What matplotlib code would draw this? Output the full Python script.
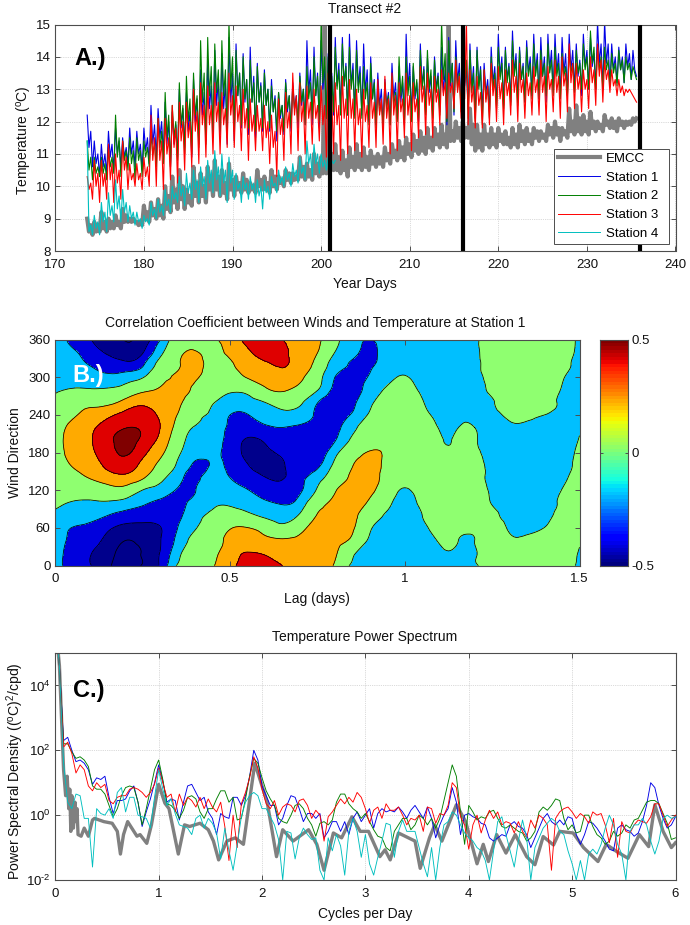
import numpy as np
import matplotlib
matplotlib.use('Agg')
import matplotlib.pyplot as plt
import matplotlib.tri as mtri

plt.rcParams['font.family'] = ['Liberation Sans', 'DejaVu Sans']
plt.rcParams['mathtext.fontset'] = 'custom'
plt.rcParams['mathtext.rm'] = 'Liberation Sans'
plt.rcParams['mathtext.default'] = 'regular'
plt.rcParams['font.size'] = 9.5

W, H = 690.0, 925.0

# panel A, temperature read every 0.2 day from day 173.6
emcc_t = [9.0,8.6,8.8,8.5,8.9,8.6,8.8,8.6,9.2,8.7,8.9,8.6,9.0,8.7,8.9,8.7,9.1,8.8,8.9,8.7,
    9.3,8.9,9.1,8.9,9.0,8.9,9.0,8.9,8.9,8.8,8.9,8.8,9.4,9.0,9.2,8.9,9.5,9.1,9.3,9.0,
    9.6,9.1,9.4,9.0,10.0,9.3,9.7,9.2,10.3,9.5,9.9,9.3,10.5,9.6,10.0,9.3,9.9,9.5,9.7,9.4,
    10.6,9.7,10.1,9.5,10.4,9.7,10.0,9.5,10.6,9.9,10.3,9.7,10.8,9.9,10.3,9.7,10.5,9.8,10.1,9.6,
    10.7,9.9,10.2,9.7,10.3,9.9,10.1,9.8,10.4,9.9,10.2,9.8,10.1,9.9,10.0,9.8,10.5,10.0,10.2,9.9,
    10.3,9.9,10.1,9.8,10.5,10.0,10.3,9.9,10.3,10.1,10.2,10.0,10.5,10.2,10.4,10.1,10.4,10.2,10.3,10.2,
    10.9,10.3,10.6,10.2,10.7,10.3,10.5,10.2,11.0,10.4,10.7,10.3,10.9,10.4,15.1,10.4,11.5,10.6,11.0,10.5,
    11.3,10.5,10.9,10.4,11.1,10.5,10.8,10.3,11.2,10.6,10.9,10.5,11.3,10.6,11.0,10.5,11.2,10.6,10.9,10.5,
    11.1,10.7,10.9,10.6,11.0,10.7,10.9,10.6,11.2,10.8,11.0,10.7,11.3,10.9,11.1,10.8,11.4,10.9,11.2,10.8,
    11.5,11.0,11.3,10.9,11.6,11.1,11.4,11.0,11.7,11.1,11.5,11.0,11.8,11.2,11.5,11.1,11.8,11.3,11.6,11.2,
    11.9,11.3,11.6,11.2,15.1,11.4,11.7,11.4,12.0,11.5,11.8,11.4,12.0,11.5,11.8,11.5,12.4,11.3,11.9,11.1,
    11.9,11.2,11.6,11.1,11.9,11.3,11.6,11.2,11.8,11.3,11.6,11.2,11.8,11.4,11.6,11.3,11.7,11.3,11.5,11.2,
    11.8,11.3,11.6,11.2,11.9,11.4,11.7,11.3,11.8,11.4,11.6,11.3,11.8,11.5,11.7,11.4,11.7,11.5,11.6,11.4,
    11.9,11.6,11.8,11.5,12.0,11.6,11.8,11.4,11.8,11.6,11.7,11.5,12.4,11.7,12.0,11.6,12.5,11.7,12.1,11.6,
    12.2,11.7,12.0,11.6,12.3,11.8,12.0,11.7,12.0,11.8,11.9,11.7,12.2,11.9,12.0,11.8,12.1,11.8,12.0,11.7,
    12.1,11.9,12.0,11.8,12.0,11.9,12.0,11.9,12.1,12.0,12.1]
st1_t = [12.2,11.2,11.7,10.6,11.4,10.7,11.0,10.3,11.3,10.6,11.0,10.4,11.7,10.9,11.3,10.5,11.8,11.0,11.4,10.6,
    11.5,10.9,11.2,10.7,11.8,11.0,11.4,10.6,11.7,11.0,11.3,10.5,11.8,11.1,11.5,10.7,12.5,11.3,11.9,10.9,
    12.4,11.5,12.0,11.0,12.6,11.3,12.0,10.6,12.3,11.3,11.9,10.9,13.0,11.8,12.4,11.2,12.9,11.7,12.3,10.9,
    13.3,12.0,12.7,11.3,13.6,12.2,12.9,11.4,13.9,12.4,13.1,11.6,14.2,12.5,13.3,11.6,14.1,12.4,13.2,11.3,
    14.6,12.6,13.5,11.4,14.4,12.8,13.5,11.8,14.1,12.6,13.3,11.6,14.3,12.6,13.4,11.5,13.8,12.6,13.2,11.7,
    13.6,12.5,13.0,11.7,13.3,12.3,12.8,11.4,12.9,12.1,12.5,11.6,13.3,12.3,12.8,11.7,13.2,12.4,12.8,11.8,
    13.5,12.5,13.0,11.9,14.5,12.9,13.6,11.9,14.3,12.8,13.5,11.8,14.5,13.0,13.7,12.1,14.1,13.0,13.5,12.2,
    14.6,13.1,13.8,12.3,14.6,13.1,13.8,12.2,14.7,13.1,13.8,12.2,14.5,13.1,13.7,12.2,14.4,12.9,13.6,12.0,
    14.0,12.7,13.3,11.9,13.5,12.5,13.0,11.8,13.3,12.5,12.9,11.9,13.8,12.7,13.2,12.1,13.7,12.6,13.2,11.9,
    14.7,13.0,13.8,12.2,13.7,12.7,13.2,12.0,14.4,13.1,13.7,12.3,14.0,12.9,13.4,12.2,14.0,13.0,13.5,12.3,
    14.3,12.9,13.6,11.9,14.6,13.1,13.8,12.2,14.5,13.2,13.8,12.4,14.1,13.1,13.6,12.4,14.4,13.0,13.7,12.1,
    14.3,13.1,13.7,12.3,13.8,12.9,13.3,12.3,14.3,13.2,13.7,12.5,14.7,13.4,14.0,12.5,14.3,13.3,13.8,12.6,
    14.8,13.5,14.1,12.6,14.3,13.3,13.8,12.6,14.5,13.5,14.0,12.8,14.7,13.5,14.1,12.7,14.6,13.4,14.0,12.6,
    14.7,13.6,14.2,12.9,14.7,13.5,14.1,12.8,14.6,13.5,14.1,12.8,14.7,13.6,14.2,13.0,14.4,13.4,13.9,12.8,
    14.7,13.7,14.2,13.0,14.6,13.7,14.1,13.0,15.1,13.8,14.4,13.0,15.1,13.8,14.4,13.1,14.4,13.6,14.0,13.2,
    14.3,13.6,14.0,13.2,14.4,13.7,14.1,13.3,14.2,13.6,13.4]
st2_t = [11.4,10.5,10.9,10.2,10.9,10.4,10.6,10.3,10.9,10.4,10.7,10.2,11.2,10.6,10.9,10.4,12.2,10.9,11.5,10.3,
    11.4,10.8,11.1,10.5,11.5,10.7,11.1,10.2,11.5,10.8,11.1,10.3,11.4,10.9,11.2,10.6,11.6,11.0,11.3,10.6,
    12.1,11.2,11.7,10.7,12.9,11.5,12.2,10.6,12.5,11.5,12.0,10.8,13.2,11.9,12.5,11.0,13.4,12.0,12.7,11.0,
    13.5,12.2,12.8,11.2,14.5,12.6,13.5,11.3,14.6,12.8,13.7,11.5,14.4,12.9,13.6,11.7,14.5,12.8,13.6,11.5,
    15.1,13.0,14.0,11.7,14.2,12.8,13.5,11.9,14.0,12.7,13.3,11.8,13.9,12.6,13.2,11.7,13.7,12.6,13.1,11.8,
    13.5,12.5,13.0,11.8,13.1,12.3,12.7,11.7,12.9,12.2,12.5,11.7,13.2,12.4,12.8,11.8,13.1,12.4,12.7,12.0,
    13.4,12.6,13.0,11.9,13.7,12.7,13.2,12.1,14.0,12.8,13.4,12.0,15.1,13.2,14.0,12.1,14.0,12.9,13.4,12.3,
    14.3,13.0,13.6,12.2,14.4,13.1,13.7,12.2,14.3,13.0,13.6,12.1,14.2,12.9,13.5,12.1,13.7,12.7,13.2,11.9,
    13.8,12.7,13.2,11.8,13.0,12.3,12.6,11.9,13.2,12.4,12.8,11.9,13.4,12.5,12.9,12.0,14.0,12.8,13.4,12.0,
    14.0,12.8,13.4,12.0,13.8,12.8,13.3,12.1,14.2,13.0,13.6,12.2,14.2,13.0,13.6,12.1,13.9,12.9,13.4,12.2,
    15.1,13.3,14.1,12.0,14.5,13.2,13.8,12.3,14.0,13.0,13.5,12.3,14.6,13.2,13.9,12.1,14.2,12.9,13.5,12.0,
    14.2,13.0,13.6,11.9,13.6,12.7,13.1,12.1,14.0,13.0,13.5,12.4,14.3,13.3,13.8,12.4,14.2,13.2,13.7,12.5,
    14.5,13.4,13.9,12.5,14.2,13.3,13.7,12.6,14.3,13.4,13.8,12.7,14.4,13.4,13.9,12.7,14.2,13.4,13.8,12.8,
    14.4,13.5,13.9,12.8,14.3,13.4,13.8,12.7,14.1,13.4,13.7,12.8,14.2,13.5,13.8,12.9,14.2,13.5,13.8,13.0,
    14.4,13.6,14.0,13.0,14.8,13.8,14.3,13.0,14.3,13.6,14.0,13.0,14.3,13.6,13.9,13.1,14.1,13.5,13.8,13.1,
    14.2,13.6,13.9,13.2,14.0,13.6,13.8,13.3,13.7,13.5,13.3]
st3_t = [10.3,9.9,10.1,9.6,10.8,10.0,10.4,9.5,10.8,10.0,10.4,9.6,11.3,10.2,10.7,9.5,11.0,10.1,10.5,9.6,
    11.4,10.5,10.9,9.9,10.7,10.2,10.4,10.0,10.7,10.2,10.4,9.9,10.9,10.3,10.6,10.0,12.2,10.8,11.5,10.0,
    12.1,10.8,11.4,9.9,12.1,11.0,11.5,10.2,12.5,11.2,11.8,10.1,12.6,11.4,12.0,10.5,12.6,11.5,12.0,10.6,
    13.0,11.7,12.3,10.7,13.2,11.9,12.5,10.9,13.1,11.9,12.5,11.0,13.2,12.0,12.6,11.0,12.9,11.9,12.4,11.2,
    13.5,12.2,12.8,11.2,13.1,12.0,12.5,11.1,13.0,11.8,12.4,10.8,12.7,11.7,12.2,11.1,12.5,11.7,12.1,11.1,
    12.5,11.5,12.0,10.7,12.2,11.2,11.7,10.3,12.7,11.6,12.1,10.8,12.9,11.8,12.3,11.0,13.5,12.2,12.8,11.1,
    13.2,12.0,12.6,11.0,13.1,12.1,12.6,11.3,13.0,12.1,12.5,11.4,13.1,11.9,12.5,10.9,13.5,12.1,12.8,11.0,
    13.2,11.9,12.5,10.8,13.4,12.1,12.7,11.0,13.3,12.1,12.7,11.1,13.0,11.9,12.4,10.9,13.0,12.0,12.5,11.2,
    13.2,12.1,12.6,11.2,13.3,12.2,12.7,11.3,13.4,12.1,12.7,11.0,13.5,12.2,12.8,11.1,13.2,12.3,12.7,11.5,
    13.5,12.2,12.8,11.1,13.2,12.3,12.7,11.5,13.7,12.6,13.1,11.6,13.5,12.5,13.0,11.5,13.4,12.6,13.0,11.9,
    13.6,12.8,13.2,12.1,13.5,12.9,13.2,12.4,13.9,12.9,13.4,12.1,13.6,12.7,15.1,11.9,13.6,12.6,13.1,11.8,
    13.4,12.5,12.9,11.8,13.6,12.6,13.1,11.9,13.8,12.8,13.3,12.0,13.7,12.7,13.2,11.9,13.6,12.8,13.2,12.2,
    13.9,12.9,13.4,12.0,13.8,12.9,13.3,12.1,13.5,12.8,13.2,12.2,13.7,12.9,13.3,12.2,13.9,12.9,13.4,12.0,
    13.7,13.0,13.3,12.3,13.9,12.9,13.4,12.1,14.0,13.1,13.5,12.3,14.4,13.2,13.8,12.4,13.8,13.0,13.4,12.3,
    13.6,13.0,13.3,12.4,14.0,13.2,13.6,12.5,14.4,13.4,13.9,12.6,13.9,13.3,13.6,12.9,13.6,13.1,13.3,12.8,
    13.3,12.9,13.1,12.8,13.0,12.9,13.0,12.9,12.8,12.7,12.6]
st4_t = [11.4,8.6,8.8,8.5,9.1,8.7,8.9,8.5,9.5,8.9,9.2,8.6,9.8,9.1,9.4,8.9,10.2,9.3,9.7,8.9,
    9.9,9.2,9.5,8.9,9.4,9.0,9.2,8.8,9.2,8.9,9.0,8.7,9.1,8.9,9.0,8.8,9.5,9.1,9.3,9.0,
    9.6,9.2,9.4,9.1,9.9,9.4,9.6,9.2,10.0,9.6,9.8,9.5,10.3,9.7,10.0,9.4,10.4,9.8,10.1,9.6,
    10.5,9.9,10.2,9.5,10.6,10.0,10.3,9.6,10.8,10.1,10.5,9.8,11.1,10.2,10.6,9.7,11.0,10.1,10.5,9.5,
    10.9,10.1,10.5,9.6,10.4,9.9,10.1,9.5,10.3,9.9,10.1,9.6,10.3,9.9,10.1,9.5,10.2,9.7,10.0,9.3,
    10.2,9.8,10.0,9.6,10.3,10.0,10.1,9.8,10.5,10.1,10.3,10.0,10.6,10.2,10.4,10.0,10.7,10.3,10.5,10.1,
    10.9,10.4,10.6,10.2,11.4,10.7,11.0,10.3,11.3,10.7,11.0,10.4,11.0,10.6,10.8,10.5,10.9,10.7,10.8,10.7,
    10.8]
transect_days = [201, 216, 236]

# panel B, correlation x100, one row per lag (0, 0.05 .. 1.5), columns are direction 0, 20 .. 360
lags = np.arange(31) * 0.05
dirs = np.arange(19) * 20
corr = np.array([
    [-20,-20,-19,-17,-13,-7,-3,0,3,4,4,3,0,-6,-11.5,-15,-18,-20,-20],
    [-31,-30,-28,-25.5,-18,-11,-3,4,11,15,16,14,8,2,-9,-14,-18,-23,-28],
    [-37,-37,-33,-28,-21,-12,-2,11,19,23,24,22,15,5,-9,-17,-26,-32,-37],
    [-46,-44,-41,-35,-25,-12,3,18,28,32,34,31,22,6,-8,-22,-31,-39,-44],
    [-50,-50,-47.5,-41,-30,-16,3,21,32,39,41,37,29,15,-3,-18,-34,-44,-48],
    [-47,-47,-45,-41,-32,-23,-10.5,12,21,29,35,36,31,22,6,-11,-27,-38.5,-44],
    [-36,-37,-38,-38,-34,-28,-17,-5,6,14,21,25,23,18,12,5,-4,-15,-26],
    [-8,-15,-21,-25,-29,-29,-26.5,-20,-12.5,-6,-1,4,9.5,13,15,12,8,5,2],
    [4,0,-5,-11,-15,-20,-25.5,-28,-26.5,-21,-17,-11,-6,-1,7,13,15,11,8],
    [9,6,2,-2,-7,-12,-15,-19,-24,-23,-20,-16,-13,-9,-4,-1,3,6,8],
    [21,19,15,9,-2,-12,-18,-25,-28,-30,-30,-28,-25,-17,-8,0,7,14,19],
    [30,25.5,19,10.5,-6,-18,-24.5,-32,-37,-40,-38.5,-32,-25.5,-16,-5,11,17,23,28],
    [29,24,14,3,-13,-23,-30,-37,-42,-40,-36,-27,-19,-10,7,16,23,30,33],
    [25,20,12,-5,-17,-26.5,-33,-38.5,-39,-35,-30,-25,-15,-2,12,21,26,27,25],
    [19,18,14,5,-8,-19,-27,-29,-31,-32,-30,-27,-17,-7,5,13,19,22,20],
    [18,17,17,15,11,3,-8,-17,-28,-32,-33,-31,-28,-24.5,-9,-3,4,10.5,14],
    [8,12,15,17,16,13,9,1,-6,-15,-26,-30,-33,-32,-29,-25,-18,-10,-5],
    [-13,-7,6,12,15,17,15,12.5,9.5,3,-7,-14,-23,-28,-31,-29,-26,-22,-20],
    [-18,-16,-12.5,-8,-2,7,13,16,14,11,3,-2,-8,-13,-19,-24,-27,-27,-25],
    [-21,-21,-19,-16,-11.5,-7,-1,3,6,7,6,5,2,-3,-8,-14,-18,-20,-20],
    [-21,-21,-20,-19,-17,-14,-11,-6,-3,-1,1,2,2,-1,-6,-9.5,-13,-16,-17],
    [-19,-18,-16,-13,-10,-7,-5,-3,-1,0,1,-1,-5,-9,-12,-14,-16,-17,-18],
    [-14,-12,-9,-6,-4,-2,0,0,-3,-6,-9,-11,-14,-16,-17,-18,-18,-18,-18],
    [-13,-12,-9.5,-6,-3,-1,0,-1,-5,-7,-9,-10.5,-13,-15,-17,-17,-17,-17,-17],
    [-13,-12,-10,-6,-3,-2,-2,-3,-5,-7,-9,-10,-13,-14,-15,-15,-15,-14,-14],
    [4,3,2,0,-5,-11,-13,-15,-15,-16,-16,-15,-14,-11.5,-6,-3,1,3,4],
    [8,3,-5,-12,-17,-19,-20,-20,-20,-19,-15,-12,-7,-1,3,5,6,7,7],
    [8,4,-5,-14,-19,-22,-23,-23,-22,-20,-16,-12,-7,-1,3,5,6,7,7],
    [8,6,1,-9.5,-16,-20,-22,-23,-23,-21,-18,-14,-10,-3,1,5,6,7,7],
    [3,3,2,1,-2,-6,-9.5,-14,-17,-18,-18,-17,-15,-13,-11,-8,-4,-1,1],
    [-15,-12,-8,-5,-3,-2,-2,-3,-4,-6,-9,-11,-13,-14,-15,-15,-15,-14,-14],
]) / 100.0
corr_levels = [-0.9, -0.475, -0.375, -0.25, -0.1, 0.1, 0.25, 0.375, 0.9]
corr_colors = ['#00008c', '#00008c', '#0000dd', '#00bfff', '#8fff70', '#ffaa00', '#df0000', '#800000']

# panel C, log10 of the spectrum, thin lines read every 0.04 cpd
freq = np.arange(151) * 0.04
st1_p = [6.0,4.6,2.3,2.4,2.0,1.65,1.7,1.6,1.4,.95,1.15,1.1,1.2,.55,.05,.45,.45,.5,.75,.9,.4,-.35,.1,.5,1.0,
    1.55,1.05,.4,.5,.45,-.15,.4,.9,.95,.7,.45,.55,.1,-.1,-.6,.05,-.05,-.1,.55,.55,.3,.6,1.2,2.0,1.7,
    .9,.6,.3,.3,-.3,-.1,.3,.6,.55,.2,-.2,.05,.05,-.1,.05,-.7,-.5,-.2,-.2,-.5,-.2,-.6,-.1,.1,-.2,
    0,.2,-.4,.05,.2,.1,.15,.1,.25,.1,-.1,.15,.3,.1,-.1,.25,-.1,-.7,-.3,0,.2,.85,.4,-.6,.0,
    .05,-.05,-.1,-.25,-.3,-.7,-.8,-.7,-.6,-.65,-.3,-.2,-.35,-.4,-.6,-1,-.7,-.4,-.1,.05,-.2,-.3,-.15,-.3,-.05,
    -.1,-.6,-.9,-.6,-.2,-.25,-.4,-.6,-.8,-1.05,-1.1,-.4,-.3,-.45,-.5,-.65,-.55,-.2,.3,1.0,.85,.3,-.1,-.4,-.3,
    -.05]
st2_p = [6.0,4.6,2.2,2.2,1.95,1.75,1.8,1.7,1.5,.9,.8,.8,.65,.3,-.05,.2,.6,.85,.9,.85,.4,-.3,.2,.8,1.4,
    1.7,1.1,.35,.3,.15,-.1,.15,.55,.6,.5,.1,-.1,.2,.2,.5,.75,.75,.4,.55,-.15,-.1,.5,1.2,1.75,1.6,
    1.15,.75,.5,.3,-.1,-.2,-.25,0,.3,.35,.2,-.1,-.3,-.65,-.25,-.2,-.3,-.15,.4,.65,.65,.35,.2,.1,-.1,
    .05,-.2,-.45,-.65,-.7,-1.0,-1.1,-.5,-.3,-.1,-.1,-.45,-.3,0,-.1,-.3,-.1,-.4,-.1,.45,1.0,1.55,1.2,.1,-.9,
    .3,.1,-.15,-.05,-.1,.1,.15,-.1,-.35,-.4,-.3,-.4,-.5,-.55,-.8,-.7,-.5,.1,.25,.15,.3,.5,.45,-.1,-.45,
    -.3,-.55,-.5,0,0,-.35,-.6,-.7,-.9,-.8,-.5,-.65,-.55,-.3,-.4,-.15,-.1,.15,.4,.45,.45,.35,.05,-.25,-.75,
    -.7]
st3_p = [6.0,4.6,2.1,2.25,1.9,1.3,1.55,1.4,.9,.75,1.0,.85,.95,.45,.35,.55,.6,.6,.8,.85,.8,.7,.55,.7,.95,
    1.45,1.0,.55,.65,.1,.65,.3,.55,.45,.25,.55,.2,.5,.25,.1,.4,-.35,-1.4,0,-1.0,.35,.7,1.15,1.8,1.45,
    .8,.35,.2,.45,0,.25,.35,.3,.1,.45,.5,.3,-.1,.15,0,-.8,-.05,.1,.3,.5,.35,.55,.4,.7,.55,
    .2,-.25,.15,.25,-.1,.35,.15,.15,.25,0,-.3,-.1,-.15,0,-.5,.25,.2,-.25,.05,0,.3,1.0,.85,-.05,-.3,
    -1.05,-.3,0,-.55,-.15,.15,-.1,.1,-.3,-.2,-.25,-.55,-.2,-.5,-.7,-.15,-.4,0,-.1,-.3,-1.7,-.1,.1,.2,.25,
    .1,-.1,.05,-.05,-.25,.1,0,.05,-.3,-.85,-.1,-1.3,-.2,-.5,-.55,-.3,-.15,-.2,-.25,-.05,.35,.35,0,-.35,-.15,
    0]
st4_p = [6.0,4.6,1.6,.4,.2,.65,.6,-.1,-.1,-1.6,.2,.05,0,.2,-.1,.7,.85,.1,.55,.55,0,-.05,-.1,-.4,.55,
    1.4,.8,.3,.5,.05,-.3,-.35,-.4,-.6,-.1,0,-.4,-.1,-.25,-.55,-1.35,-.4,-1.1,-1.7,-.9,-.05,.4,.6,.7,.6,
    .2,.2,-.05,-.3,-.75,-2.0,-.5,-.55,-1.35,-.7,-.4,-.6,-.75,-.7,-1.7,-2.0,-.7,-1.1,-.6,-.95,-1.85,-.5,-.1,-.5,-1.3,
    -.6,-1.5,-1.85,-1.3,-.8,-.25,-.3,-1.3,-.5,-.15,-.5,-.5,-.5,-1.0,-1.5,-1.9,-1.0,-2.0,-1.0,-.3,-.2,.1,0,-.3,-.55,
    -.7,-.8,-1.0,-1.1,-1.4,-2.0,-1.1,-.2,-.05,-.6,-1.1,-1.6,-.8,-.15,-.7,-2.0,-1.0,-.7,-.4,-.25,-.1,-.2,-.5,-.6,-1.1,
    -1.5,-2.0,-1.4,-2.0,-1.2,-1.05,-1.2,-.9,-.4,0,-.3,-.9,-1.2,-2.0,-.5,-.3,-.3,-.1,-.3,-.8,-1.2,-.8,-.1,0,-.1,
    -.05]
emcc_f = [0,.04,.06,.08,.1,.115,.13,.14,.15,.16,.175,.19,.2,.21,.22,.25,.28,.32,.36,.38,.47,.55,.6,.63,.66,.7,
    .79,.82,.885,.93,1.0,1.06,1.1,1.19,1.25,1.3,1.4,1.48,1.53,1.58,1.66,1.74,1.82,1.93,2.0,2.05,2.14,2.2,2.3,2.45,
    2.53,2.6,2.69,2.77,2.87,2.95,3.03,3.14,3.19,3.24,3.32,3.48,3.53,3.62,3.67,3.74,3.88,3.97,4.08,4.14,4.19,4.27,
    4.36,4.45,4.56,4.64,4.72,4.82,4.88,5.01,5.11,5.25,5.33,5.43,5.54,5.65,5.74,5.8,5.88,5.96,6.0]
emcc_p = [6.0,4.6,3.0,1.4,.6,1.2,.2,.8,-.5,.6,-.4,.4,-.2,.2,-.6,-.65,-.4,-.65,-.15,-.1,-.2,-.25,-.5,-1.2,-.6,-.2,
    -.65,-.6,-.87,-.3,.95,.37,.2,-1.2,-.3,-.35,-.25,-.45,-.8,-1.38,-.8,-.7,-.9,1.6,.9,.4,-1.28,-.45,-.8,-.45,
    -.9,-1.7,-.55,-.7,-.05,-.5,-.5,-1.28,-1.07,-1.38,-.55,-.8,-1.64,-.7,-.3,-.8,.32,-.2,-1.5,-.9,-1.43,-.6,
    -1.17,-.6,-1.28,-1.53,-.66,-.92,-.5,-.55,-1.0,-1.43,-.9,-1.12,-1.33,-.6,-.97,.32,-.5,-1.0,-.85]


def make_axes(x0, x1, y0, y1):
    # pixel box of the axes, y counted from the top of the picture
    return fig.add_axes([x0 / W, 1 - y1 / H, (x1 - x0) / W, (y1 - y0) / H])


def style_axes(ax, grid=True):
    for s in ax.spines.values():
        s.set_color('#4d4d4d')
        s.set_linewidth(0.8)
    ax.tick_params(which='both', direction='in', top=True, right=True, length=3.6,
                   width=0.7, color='#4d4d4d', labelcolor='#111111')
    ax.tick_params(axis='x', pad=5.5)
    ax.tick_params(axis='y', pad=3.5)
    if grid:
        ax.grid(True, ls=':', lw=0.5, color='#b8b8b8')
        ax.set_axisbelow(True)


def ptext(x, y, s, **kw):
    kw.setdefault('ha', 'center')
    kw.setdefault('va', 'center')
    kw.setdefault('color', '#111111')
    kw.setdefault('fontsize', 10)
    fig.text(x / W, 1 - y / H, s, **kw)


fig = plt.figure(figsize=(6.9, 9.25), dpi=100)

# A
ax = make_axes(55.3, 675.5, 24.5, 251)
style_axes(ax)
day = 173.6 + 0.2 * np.arange(len(emcc_t))
ax.plot(day, emcc_t, color='#808080', lw=3.0, label='EMCC')
ax.plot(day, st1_t, color='#0000e6', lw=0.8, label='Station 1')
ax.plot(day, st2_t, color='#007f00', lw=0.8, label='Station 2')
ax.plot(day, st3_t, color='#ff0000', lw=0.8, label='Station 3')
ax.plot(day[:len(st4_t)], st4_t, color='#00bfbf', lw=0.8, label='Station 4')
for d in transect_days:
    ax.axvline(d, color='k', lw=3.0, zorder=3)
ax.set_xlim(170, 240)
ax.set_ylim(8, 15)
ax.set_xticks(np.arange(170, 241, 10))
ax.set_yticks(np.arange(8, 16))
leg = ax.legend(loc='lower left', bbox_to_anchor=((554 - 55.3) / 620.2, (251 - 244) / 226.5,
                (669 - 554) / 620.2, (244 - 148) / 226.5), mode='expand', borderaxespad=0,
                fancybox=False, framealpha=1, edgecolor='#4d4d4d', handlelength=3.2,
                handletextpad=0.45, labelspacing=0.5, borderpad=0.3, fontsize=9.5)
leg.set_zorder(5)
leg.get_frame().set_linewidth(0.7)
for line in leg.get_lines():
    if line.get_linewidth() < 1:
        line.set_linewidth(0.7)
ptext(365, 9, 'Transect #2')
ptext(365, 284, 'Year Days')
ptext(24, 140, 'Temperature ($^{o}$C)', rotation=90)
ptext(74, 59, 'A.)', fontsize=17, fontweight='bold', color='k', ha='left')

# B, the read grid goes through matplotlib's own tri refiner so the contours come out round
grid_i, grid_j = np.meshgrid(np.arange(len(lags)), np.arange(len(dirs)), indexing='ij')
coarse = mtri.Triangulation(grid_i.ravel().astype(float), grid_j.ravel().astype(float))
fine, fine_corr = mtri.UniformTriRefiner(coarse).refine_field(corr.ravel(), subdiv=3)
fine_tri = mtri.Triangulation(fine.x * 0.05, fine.y * 20, fine.triangles)

ax = make_axes(55.3, 579.5, 339.5, 565.7)
ax.tricontourf(fine_tri, fine_corr, levels=corr_levels, colors=corr_colors)
ax.tricontour(fine_tri, fine_corr, levels=corr_levels[1:-1], colors='k', linewidths=0.55, linestyles='solid')
style_axes(ax, grid=False)
ax.set_xlim(0, 1.5)
ax.set_ylim(0, 360)
ax.set_xticks([0, 0.5, 1, 1.5])
ax.set_xticklabels(['0', '0.5', '1', '1.5'])
ax.set_yticks(np.arange(0, 361, 60))
ptext(315, 323, 'Correlation Coefficient between Winds and Temperature at Station 1')
ptext(317, 599, 'Lag (days)')
ptext(15, 453, 'Wind Direction', rotation=90)
ptext(72, 375, 'B.)', fontsize=17, fontweight='bold', color='white', ha='left')

cax = make_axes(600.3, 627.7, 339.5, 566)
cax.imshow(np.linspace(0.5, -0.5, 64).reshape(-1, 1), cmap='jet', aspect='auto', vmin=-0.5, vmax=0.5,
           extent=[0, 1, -0.5, 0.5])
style_axes(cax, grid=False)
cax.set_xticks([])
cax.yaxis.tick_right()
cax.tick_params(left=True, right=True, length=2.5, pad=3)
cax.set_yticks([-0.5, 0, 0.5])
cax.set_yticklabels(['-0.5', '0', '0.5'])

# C
ax = make_axes(55.3, 675.5, 653, 880)
style_axes(ax)
ax.semilogy(emcc_f, 10.0 ** np.array(emcc_p), color='#808080', lw=2.4)
ax.semilogy(freq, 10.0 ** np.array(st1_p), color='#0000e6', lw=0.65)
ax.semilogy(freq, 10.0 ** np.array(st2_p), color='#007f00', lw=0.65)
ax.semilogy(freq, 10.0 ** np.array(st3_p), color='#ff0000', lw=0.65)
ax.semilogy(freq, 10.0 ** np.array(st4_p), color='#00bfbf', lw=0.65)
ax.set_xlim(0, 6)
ax.set_ylim(1e-2, 1e5)
ax.set_xticks(np.arange(7))
ax.set_yticks([1e-2, 1e0, 1e2, 1e4])
ax.set_yticklabels(['$10^{\\text{-}2}$', '$10^{0}$', '$10^{2}$', '$10^{4}$'])
ax.minorticks_off()
ptext(365, 637.5, 'Temperature Power Spectrum')
ptext(365, 914, 'Cycles per Day')
ptext(15, 771, 'Power Spectral Density (($^{o}$C)$^{2}$/cpd)', rotation=90, fontsize=10.1)
ptext(73, 691, 'C.)', fontsize=17, fontweight='bold', color='k', ha='left')

fig.savefig('out.png', dpi=100)
